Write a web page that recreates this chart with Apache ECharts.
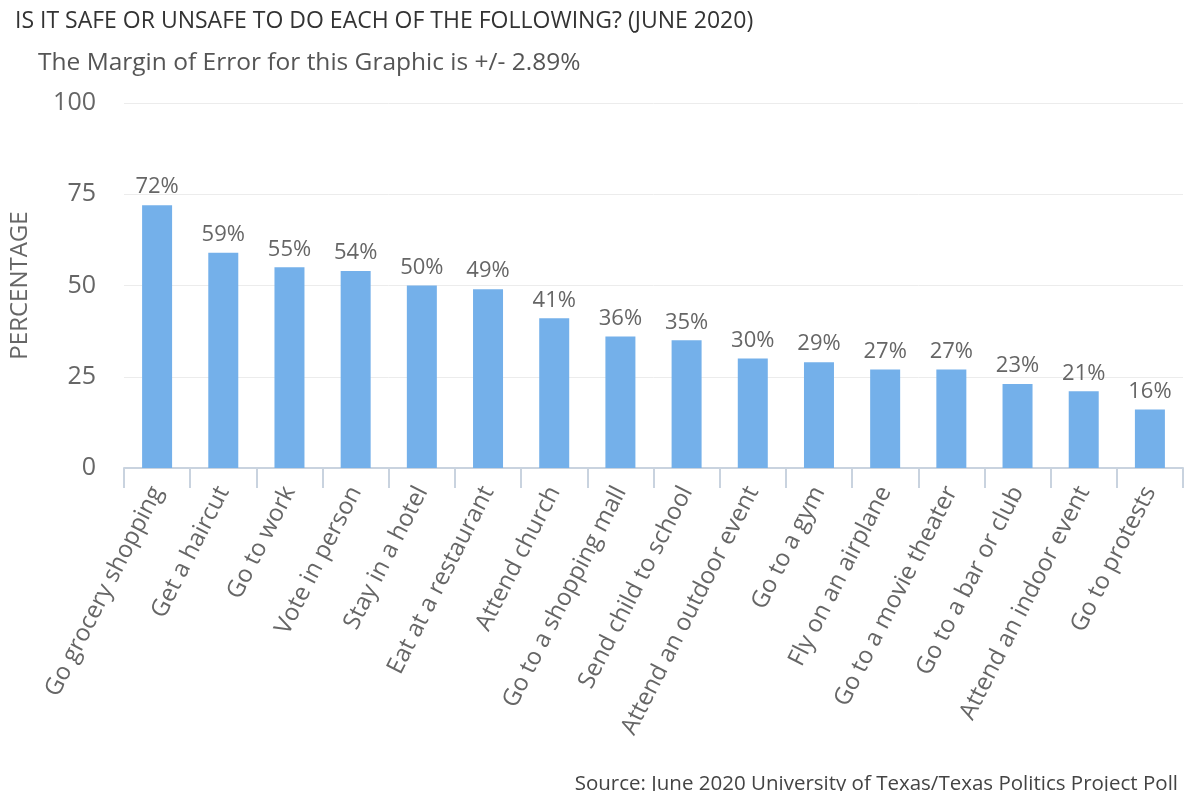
<!DOCTYPE html>
<html>
<head>
<meta charset="utf-8">
<script src="https://cdn.jsdelivr.net/npm/echarts@6/dist/echarts.min.js"></script>
<style>
html,body{margin:0;padding:0;background:#fff;}
#c{width:1185px;height:791px;}
</style>
</head>
<body>
<div id="c"></div>
<script>
const categories = ["Go grocery shopping","Get a haircut","Go to work","Vote in person","Stay in a hotel","Eat at a restaurant","Attend church","Go to a shopping mall","Send child to school","Attend an outdoor event","Go to a gym","Fly on an airplane","Go to a movie theater","Go to a bar or club","Attend an indoor event","Go to protests"];
const values = [72,59,55,54,50,49,41,36,35,30,29,27,27,23,21,16];
const yTicks = [0,25,50,75,100];
const titleText = "IS IT SAFE OR UNSAFE TO DO EACH OF THE FOLLOWING? (JUNE 2020)";
const subtitleText = "The Margin of Error for this Graphic is +/- 2.89%";
const sourceText = "Source: June 2020 University of Texas/Texas Politics Project Poll";

const chart = echarts.init(document.getElementById('c'));
const font = "'Open Sans', sans-serif";
chart.setOption({
  backgroundColor: '#fff',
  animation: false,
  title: [
    {text: titleText, left: 10, top: 5, textStyle: {fontFamily: font, fontSize: 23, fontWeight: 'normal', color: '#333'}},
    {text: subtitleText, left: 33, top: 46, textStyle: {fontFamily: font, fontSize: 24.5, fontWeight: 'normal', color: '#555'}},
    {text: sourceText, right: 2, top: 769, textStyle: {fontFamily: font, fontSize: 20.5, fontWeight: 'normal', color: '#444'}}
  ],
  grid: {left: 123, right: 2, top: 103, bottom: 323, containLabel: false},
  xAxis: {
    type: 'category',
    data: categories,
    axisLine: {lineStyle: {color: '#c9d3df', width: 2}},
    axisTick: {show: true, length: 20, lineStyle: {color: '#c9d3df', width: 2}},
    axisLabel: {interval: 0, rotate: 63, margin: 20, fontFamily: font, fontSize: 24, color: '#666'}
  },
  yAxis: {
    type: 'value',
    min: yTicks[0], max: yTicks[yTicks.length-1], interval: 25,
    name: 'PERCENTAGE', nameLocation: 'middle', nameRotate: 90, nameGap: 92,
    nameTextStyle: {fontFamily: font, fontSize: 24, color: '#666'},
    axisLine: {show: false}, axisTick: {show: false},
    axisLabel: {fontFamily: font, fontSize: 25, color: '#666', margin: 28},
    splitLine: {lineStyle: {color: '#ececec', width: 1}}
  },
  series: [{
    type: 'bar',
    data: values,
    barWidth: 30,
    itemStyle: {color: '#74b0ea'},
    label: {show: true, position: 'top', distance: 7, formatter: '{c}%', fontFamily: font, fontSize: 22, color: '#666'}
  }]
});
</script>
</body>
</html>
